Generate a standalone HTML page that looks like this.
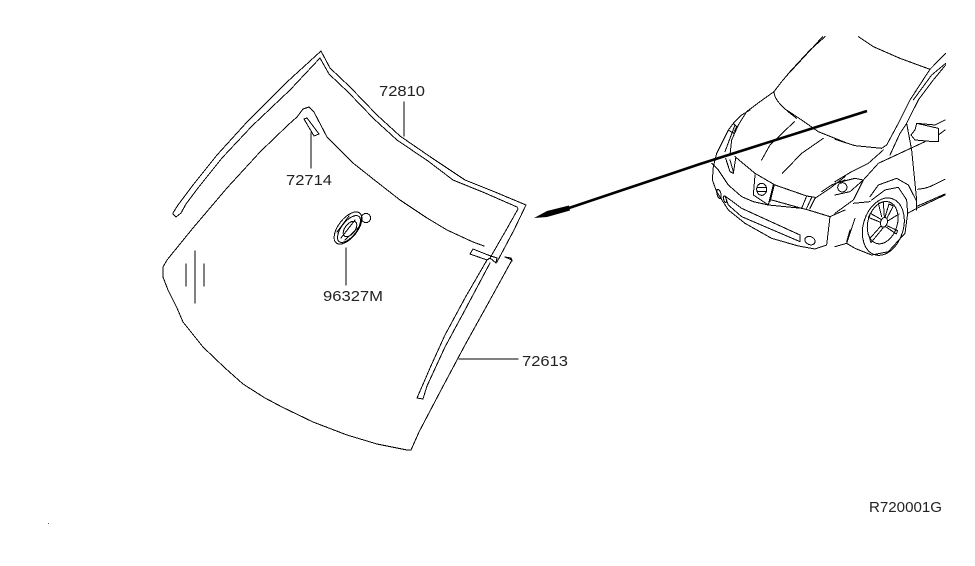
<!DOCTYPE html>
<html><head><meta charset="utf-8"><style>
html,body{margin:0;padding:0;background:#fff}
svg{display:block}
text{font-family:"Liberation Sans",sans-serif;font-size:15px;fill:#222}
.l,.l *{fill:none;stroke:#000;stroke-width:1;stroke-linejoin:round;stroke-linecap:round;shape-rendering:crispEdges}
.c path,.c ellipse,.c circle{fill:none;stroke:#000;stroke-width:3;stroke-linejoin:round;stroke-linecap:round;shape-rendering:crispEdges}
</style></head><body>
<svg width="975" height="566" viewBox="0 0 975 566" xmlns="http://www.w3.org/2000/svg">
<rect width="975" height="566" fill="#fff"/>
<!-- windshield glass -->
<path class="l" d="M309,107 L303,109 L297,117 L288,125 L260,152 L227,188 L193,228 L167,260 L163,267 L163,277 L168,290 L177,308 L183,322 L203,347 L225,368 L243,384 L265,398 L282,407 L313,422 L347,435 L377,444 L407,450 L411,450 L419,432 L440,392 L465,345 L490,300 L512,260 L505,257"/>
<path class="l" d="M309,107 L314,112 L327,137 L353,163 L377,182 L400,200 L427,218 L447,230 L473,242 L484,246"/>
<!-- top moulding 72810 -->
<path class="l" d="M173,213 L178,205 L193,185 L217,155 L247,122 L287,82 L321,51 L330,68 L350,87 L377,115 L400,136 L432,158 L465,180 L495,192 L526,205 L514,230 L497,262"/>
<path class="l" d="M173,214 L176,217 L181,213 L186,204 L198,188 L222,158 L252,126 L290,90 L320,58 L329,74 L348,92 L374,119 L397,140 L428,161 L453,180 L485,193 L517,207 L518,209 L505,232 L490,258"/>
<!-- side moulding 72613 -->
<path class="l" d="M487,260 L465,298 L445,335 L430,368 L424,382 L417,398 L423,399 L427,386 L445,347 L465,310 L490,263"/>
<path class="l" d="M473,249 L470,254 L487,260 L490,258 L496,263 L497,258 L488,255 Z"/>
<path class="l" d="M505,257 L511,258 L512,261"/>
<!-- small strip 72714 -->
<path class="l" d="M304,119 L307,118 L319,134 L314,136 Z"/>
<!-- hatch marks -->
<path class="l" d="M186,264V286M195,251V303M204,264V286"/>
<!-- leaders -->
<path class="l" d="M404,102V136M311,133V168M346,248V285M459,359H518"/>
<!-- sensor 96327M -->
<g class="l">
<ellipse cx="348" cy="228" rx="19" ry="9.5" transform="rotate(-52 348 228)"/>
<ellipse cx="349" cy="229" rx="16" ry="7.5" transform="rotate(-52 349 229)"/>
<ellipse cx="350" cy="229" rx="9" ry="5" transform="rotate(-52 350 229)"/>
<circle cx="366" cy="218" r="4.6"/>
<path d="M341,238 L355,220 M337,232 L349,216 M345,240 L360,226"/>
</g>
<!-- car: upper body -->
<g class="c" transform="translate(700,30) scale(0.3333)">
<path d="M375,20 L330,60 L270,125 L245,155 L222,185 L180,215 L140,245 L115,285 L95,330 L90,375"/>
<path d="M368,20 L315,78 L262,135 L245,155"/>
<path d="M222,185 C222,210 250,235 290,265"/>
<path d="M475,20 L520,50 L600,85 L690,118 L630,210"/>
<path d="M690,118 L737,70 M655,210 L700,150 L737,105 M640,210 L695,135 L737,100"/>
</g>
<!-- car: front -->
<g class="c" transform="translate(705,110) scale(0.3333)">
<path d="M35,130 L25,170 L22,210 L35,245 L70,300 L120,340 L200,385 L280,408 L330,417 L365,405 L375,320"/>
<path d="M35,130 L50,100 L70,60 L85,40 L110,15 L135,0"/>
<path d="M70,60 L85,70 L95,50 L85,40 M90,45 L75,85 L60,125"/>
<path d="M62,145 L75,185 L85,190 L92,145 M75,150 L85,185"/>
<path d="M90,140 L150,190 L210,225 L305,258 L330,262"/>
<path d="M20,160 L40,180 L70,225 L110,260 L145,275 L190,285 L290,295 L310,300 L375,320 L420,300"/>
<path d="M150,195 L145,255 L190,285 L205,225 M195,275 L208,225 M200,270 L290,295 L305,258 M305,295 L320,262"/>
<ellipse cx="170" cy="238" rx="15" ry="18"/>
<path d="M156,232 H184 M156,245 H184"/>
<ellipse cx="42" cy="252" rx="6" ry="14" transform="rotate(-15 42 252)"/>
<ellipse cx="60" cy="268" rx="4" ry="10" transform="rotate(-20 60 268)"/>
<path d="M60,258 L110,295 L285,375 L285,395 L110,320 L70,285 Z"/>
<ellipse cx="315" cy="392" rx="16" ry="12" transform="rotate(20 315 392)"/>
<path d="M170,150 L195,105 L268,35 M232,190 L290,130 L355,85"/>
<path d="M245,0 L290,30 L340,65 L420,97"/>
<path d="M315,295 L330,265 L375,235 L420,200 M350,245 L380,225 L420,210"/>
</g>
<!-- car: side -->
<g class="c" transform="translate(835,100) scale(0.3333)">
<path d="M0,118 L60,137 L140,145 L155,135 L190,70 L225,0"/>
<path d="M165,165 L195,100 L215,70 L240,20 L250,0"/>
<path d="M0,245 L50,215 L100,190 L145,150 M85,240 L130,190 L270,125"/>
<path d="M0,285 L45,275 L85,240 L55,300 L0,340 M55,310 L105,305 M0,250 L60,235 L85,240"/>
<ellipse cx="22" cy="262" rx="14" ry="14"/>
<path d="M215,70 L230,150 L245,300 L245,330"/>
<path d="M240,90 L245,70 L300,75 L330,60 M245,70 L310,85 L310,125 L295,125 L240,120 L228,105 L240,90 M310,105 L330,90"/>
<path d="M248,268 L268,265 L285,260 L330,238"/>
<path d="M245,325 L330,285 M248,318 L330,282"/>
<path d="M105,290 L130,255 L185,235 L220,255 L243,300 M110,300 L150,270 L190,262 L215,300 L218,340 L245,325"/>
<path d="M218,340 L210,400 L160,455 L110,465 L60,445 L35,430 L60,355 M0,440 L35,430 M45,390 L35,425"/>
<ellipse cx="145" cy="380" rx="60" ry="88" transform="rotate(17 145 380)"/>
<ellipse cx="143" cy="368" rx="44" ry="65" transform="rotate(17 143 368)"/>
<ellipse cx="147" cy="367" rx="10" ry="15" transform="rotate(17 147 367)"/>
<path d="M150,352 L162,312 L175,318 L156,354 M160,362 L192,342 M158,378 L188,392 L184,402 L152,380 M144,384 L108,428 L104,416 L136,380 M134,366 L100,352 L106,340 L138,358 M140,350 L130,310 L145,306 L148,350"/>
</g>
<!-- arrow -->
<path d="M867,111 L700,164 L569,208" fill="none" stroke="#000" stroke-width="2.6"/>
<path d="M534,218 L547,211 L569,205.5 L570,210.5 L547,217 Z" fill="#000"/>
<!-- labels -->
<text x="379" y="96" textLength="46" lengthAdjust="spacingAndGlyphs">72810</text>
<text x="286" y="185" textLength="46" lengthAdjust="spacingAndGlyphs">72714</text>
<text x="323" y="301" textLength="60" lengthAdjust="spacingAndGlyphs">96327M</text>
<text x="522" y="366" textLength="46" lengthAdjust="spacingAndGlyphs">72613</text>
<text x="869" y="512" textLength="73" lengthAdjust="spacingAndGlyphs" style="font-size:14.5px">R720001G</text>
<rect x="48" y="523" width="1" height="1" fill="#555"/>
</svg>
</body></html>
